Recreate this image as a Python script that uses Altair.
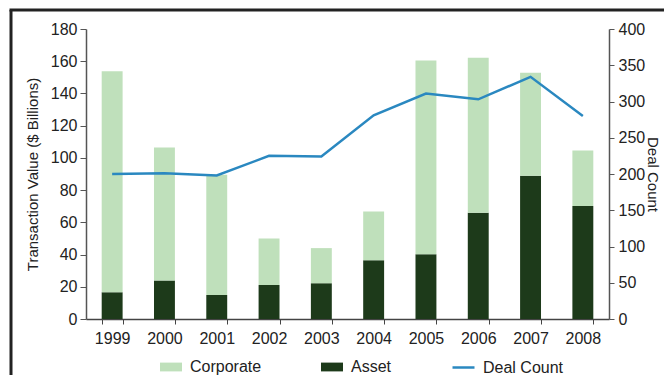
import altair as alt
import pandas as pd

years = ["1999", "2000", "2001", "2002", "2003", "2004", "2005", "2006", "2007", "2008"]
asset = [16.6, 23.9, 14.9, 21.1, 22.2, 36.5, 40.2, 65.9, 88.9, 70.2]
corporate = [137.1, 82.6, 74.6, 28.9, 21.8, 30.2, 120.3, 96.3, 64.0, 34.4]
deal_count = [200, 201, 198, 225, 224, 281, 311, 303, 334, 280]

series_names = ["Corporate", "Asset"]
bar_colors = ["#bfe0bb", "#1d3a1a"]
line_color = "#2a88c0"
FONT = "Liberation Sans"
TXT = "#222222"
FS = 16

rows = []
for i, y in enumerate(years):
    rows.append({"year": y, "series": "Asset", "value": asset[i], "ord": 0})
    rows.append({"year": y, "series": "Corporate", "value": corporate[i], "ord": 1})
bars_df = pd.DataFrame(rows)
line_df = pd.DataFrame({"year": years, "deals": deal_count, "name": ["Deal Count"] * len(years)})

xscale = alt.Scale(domain=years, paddingInner=0.6, paddingOuter=0.3)
xaxis = alt.Axis(title=None, labelAngle=0, tickBand="extent", tickSize=5, labelPadding=6,
                 labelFontSize=FS, labelColor=TXT, domainColor="#444", tickColor="#444",
                 domainWidth=1.5)

bars = alt.Chart(bars_df).mark_bar().encode(
    x=alt.X("year:N", scale=xscale, axis=xaxis, sort=years),
    y=alt.Y("value:Q", stack="zero",
            scale=alt.Scale(domain=[0, 180], nice=False),
            axis=alt.Axis(title="Transaction Value ($ Billions)", values=list(range(0, 181, 20)),
                          tickSize=6, labelPadding=3, labelFontSize=FS, labelColor=TXT,
                          titleFontSize=15, titleFontWeight="normal", titleColor=TXT,
                          titlePadding=10, grid=False, domainColor="#555", tickColor="#555",
                          domainWidth=1.5)),
    color=alt.Color("series:N", scale=alt.Scale(domain=series_names, range=bar_colors),
                    legend=alt.Legend(title=None, orient="none", legendX=74, legendY=327,
                                      direction="horizontal",
                                      symbolType="M-1,-0.4L1,-0.4L1,0.4L-1,0.4Z",
                                      symbolSize=484, symbolStrokeWidth=0, labelOffset=8,
                                      columnPadding=59, labelFontSize=FS, labelColor=TXT,
                                      labelFont=FONT)),
    order=alt.Order("ord:Q"),
)

line = alt.Chart(line_df).mark_line(strokeWidth=2.5).encode(
    x=alt.X("year:N", scale=xscale, sort=years),
    y=alt.Y("deals:Q", scale=alt.Scale(domain=[0, 400], nice=False),
            axis=alt.Axis(title="Deal Count", orient="right", values=list(range(0, 401, 50)),
                          tickSize=5, labelPadding=4, labelFontSize=FS, labelColor=TXT,
                          titleFontSize=15, titleFontWeight="normal", titleColor=TXT,
                          titlePadding=0, grid=False, domainColor="#555", tickColor="#555",
                          domainWidth=1.5)),
    stroke=alt.Stroke("name:N", scale=alt.Scale(domain=["Deal Count"], range=[line_color]),
                      legend=alt.Legend(title=None, orient="none", legendX=365, legendY=326,
                                        symbolType="stroke", symbolSize=484,
                                        symbolStrokeWidth=2.5, labelOffset=7,
                                        labelFontSize=FS, labelColor=TXT, labelFont=FONT)),
)

frame_data = alt.Data(values=[{"k": 1}])
frame_left = alt.Chart(frame_data).mark_rule(color="#222", strokeWidth=3).encode(
    x=alt.value(-75), y=alt.value(-19), y2=alt.value(400))
frame_top = alt.Chart(frame_data).mark_rule(color="#222", strokeWidth=3).encode(
    x=alt.value(-76.5), x2=alt.value(700), y=alt.value(-19))

chart = alt.layer(bars, line, frame_left, frame_top).resolve_scale(
    y="independent", color="independent", stroke="independent"
).properties(
    width=523, height=290,
    autosize=alt.AutoSizeParams(type="none"),
    padding={"left": 78, "top": 21, "right": 55, "bottom": 56},
    background="white",
).configure_view(stroke=None).configure_axis(
    labelFont=FONT, titleFont=FONT
).configure_legend(labelFont=FONT)

chart.save("out.html", embed_options={"renderer": "svg", "actions": False})
